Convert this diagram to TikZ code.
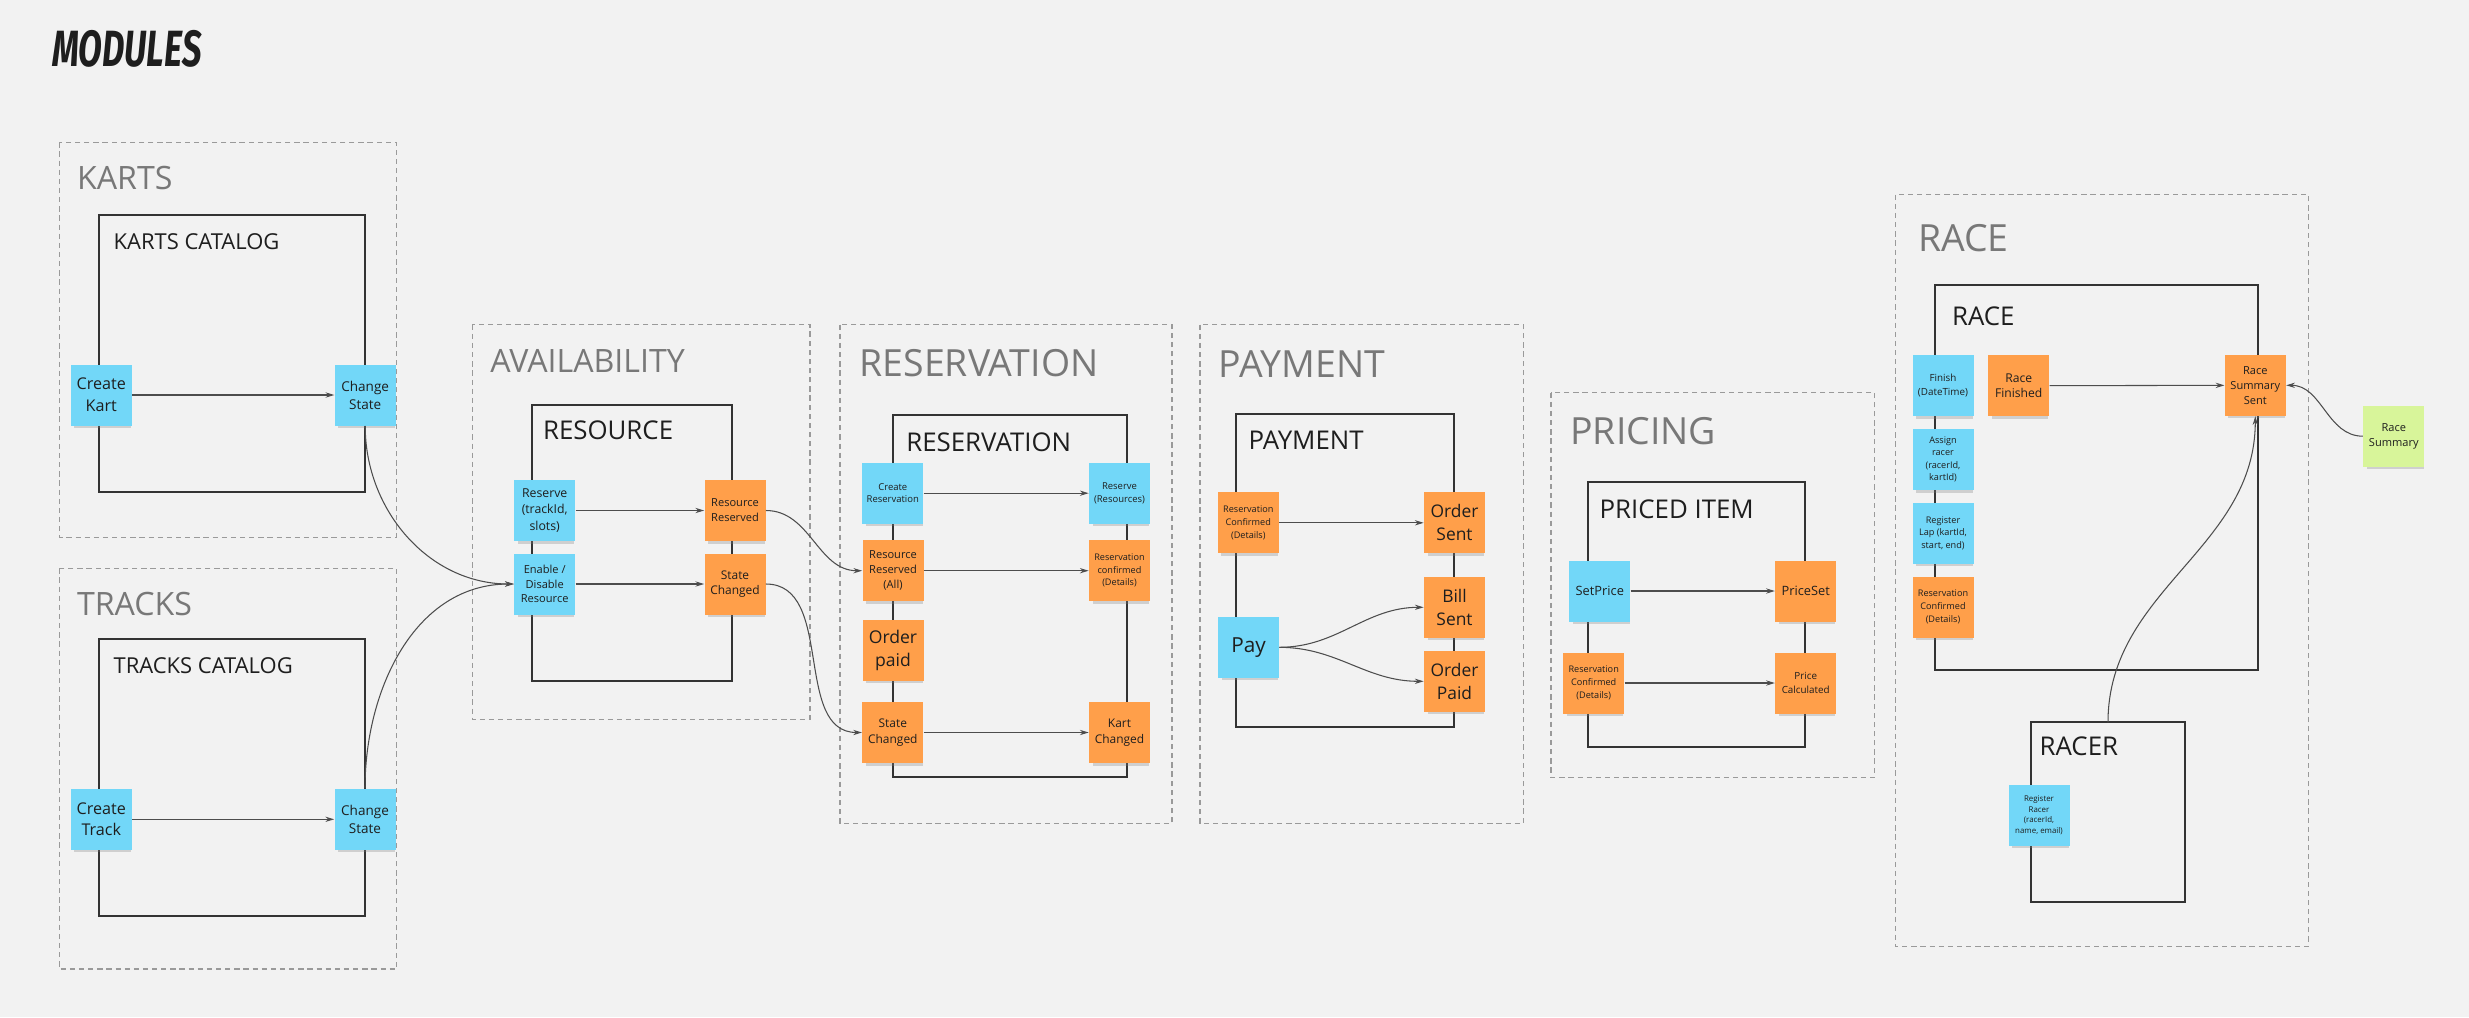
\documentclass[tikz,border=0pt]{standalone}
\usepackage{fontspec}
\setmainfont{Open Sans}
\newfontfamily\titlefont{Fira Sans}
\usetikzlibrary{arrows.meta,shadows}
\definecolor{bgGrey}{HTML}{F2F2F2}
\definecolor{frameGrey}{HTML}{9A9A9A}
\definecolor{labelGrey}{HTML}{787878}
\definecolor{boxLine}{HTML}{333333}
\definecolor{connLine}{HTML}{4D4D4D}
\definecolor{noteBlue}{HTML}{72D7F8}
\definecolor{noteOrange}{HTML}{FF9F4A}
\definecolor{noteGreen}{HTML}{D8F59A}
\definecolor{noteText}{HTML}{1E1E1E}
\newcommand\fsz[2]{\fontsize{#1}{#2}\selectfont}

\tikzset{
  module/.style={draw=frameGrey, line width=0.8pt, dash pattern=on 3pt off 2.2pt},
  aggbox/.style={draw=boxLine, line width=1.1pt},
  modlabel/.style={anchor=base west, text=labelGrey, inner sep=0},
  agglabel/.style={anchor=base west, text=noteText, inner sep=0},
  note/.style={rectangle, minimum width=12.2mm, minimum height=12.2mm,
    inner sep=0.6mm, align=center, text=noteText,
    drop shadow={shadow xshift=0.3mm, shadow yshift=-1mm,
      shadow scale=0.93, opacity=0.3}},
  cmd/.style={note, fill=noteBlue},
  evt/.style={note, fill=noteOrange},
  ext/.style={note, fill=noteGreen},
  conn/.style={draw=connLine, line width=0.6pt,
    -{Stealth[length=5pt, width=3pt]}},
}

\begin{document}
\begin{tikzpicture}[x=0.2mm, y=-0.2mm]

% --- CANVAS (pixel grid of the board) ---
\fill[bgGrey] (0,0) rectangle (2469,1017);
\useasboundingbox (0,0) rectangle (2469,1017);

\node[anchor=base west, inner sep=0, text=noteText] (title) at (52,66)
  {\titlefont\bfseries\itshape\fsz{29}{30}\scalebox{0.68}[1]{MODULES}};

% --- MODULES (dashed frames) ---
\foreach \xa/\ya/\xb/\yb/\lx/\ly/\fs/\txt [count=\i] in {
    59.3/142.3/396.7/537.3/76.7/189.3/18.3/KARTS,
    59.3/568.3/396.7/969/76.7/615.7/18.3/TRACKS,
    472.3/324.7/810/719.3/490/372/18.3/AVAILABILITY,
    840/324.7/1172/823.3/859.3/376.7/21.3/RESERVATION,
    1200/324.7/1523.3/823.3/1218.3/377.3/21.3/PAYMENT,
    1551/392.7/1874.7/777.3/1570/444.3/21.3/PRICING,
    1895.7/194.7/2308.3/946.7/1917.7/251/21.3/RACE} {
  \draw[module] (\xa,\ya) rectangle (\xb,\yb);
  \node[modlabel, font=\fsz{\fs}{\fs}] (mod\i) at (\lx,\ly) {\txt};
}

% --- AGGREGATES (solid boxes) ---
\foreach \xa/\ya/\xb/\yb/\lx/\ly/\fs/\txt [count=\i] in {
    99.3/215.3/365.3/492/113.3/249/12.5/KARTS CATALOG,
    99.3/639.3/365.3/916.3/113.3/673.3/12.5/TRACKS CATALOG,
    531.7/405/732.3/681/542.7/439/14.7/RESOURCE,
    893.3/415/1127.3/777.3/906/451.3/14.7/RESERVATION,
    1236/414/1454.3/727/1248.3/449/14.7/PAYMENT,
    1587.7/482.3/1805.3/747/1599.3/518/14.7/PRICED ITEM,
    1934.7/284.7/2257.7/670/1951.7/325/14.7/RACE,
    2030.7/722.3/2185.3/902/2039.3/755/14.7/RACER} {
  \draw[aggbox] (\xa,\ya) rectangle (\xb,\yb);
  \node[agglabel, font=\fsz{\fs}{\fs}] (agg\i) at (\lx,\ly) {\txt};
}
\coordinate (racertop) at (2108,722.3);

% --- KARTS ---
\node[cmd, font=\fsz{9.2}{12.4}] (ck) at (101.3,395) {Create\\Kart};
\node[cmd, font=\fsz{7.7}{10.2}] (ks) at (365.2,395) {Change\\State};

% --- TRACKS ---
\node[cmd, font=\fsz{9.2}{12.4}] (ct) at (101.3,819.3) {Create\\Track};
\node[cmd, font=\fsz{7.7}{10.2}] (ts) at (365,819.3) {Change\\State};

% --- AVAILABILITY ---
\node[cmd, font=\fsz{7}{9.3}] (res) at (544.7,510.5) {Reserve\\(trackId,\\slots)};
\node[cmd, font=\fsz{6.3}{8.3}] (enable) at (544.7,584) {Enable /\\Disable\\Resource};
\node[evt, font=\fsz{6.3}{8.5}] (rr) at (735,510.5) {Resource\\Reserved};
\node[evt, font=\fsz{6.8}{8.8}] (sc) at (735,584) {State\\Changed};

% --- RESERVATION ---
\node[cmd, font=\fsz{5.4}{7.2}] (cres) at (892.8,493.2) {Create\\Reservation};
\node[cmd, font=\fsz{5.4}{7.2}] (rsv) at (1119.5,493.2) {Reserve\\(Resources)};
\node[evt, font=\fsz{6.3}{8.6}] (rra) at (893,570.7) {Resource\\Reserved\\(All)};
\node[evt, font=\fsz{5.2}{7.2}] (rcd) at (1119.5,570.7) {Reservation\\confirmed\\(Details)};
\node[evt, font=\fsz{10}{13}] (op) at (893,650.2) {Order\\paid};
\node[evt, font=\fsz{6.8}{9}] (rsc) at (892.8,732.5) {State\\Changed};
\node[evt, font=\fsz{6.8}{9}] (kc) at (1119.5,732.5) {Kart\\Changed};

% --- PAYMENT ---
\node[evt, font=\fsz{5.2}{7.2}] (prc) at (1248.3,522.8) {Reservation\\Confirmed\\(Details)};
\node[cmd, font=\fsz{11.8}{13}] (pay) at (1248.5,647.3) {Pay};
\node[evt, font=\fsz{9.9}{13.2}] (os) at (1454.5,522.8) {Order\\Sent};
\node[evt, font=\fsz{9.9}{13.2}] (bs) at (1454.5,607.3) {Bill\\Sent};
\node[evt, font=\fsz{9.9}{13.2}] (opd) at (1454.5,681.3) {Order\\Paid};

% --- PRICING ---
\node[cmd, font=\fsz{7.3}{9}] (sp) at (1599.8,591) {SetPrice};
\node[evt, font=\fsz{7.3}{9}] (ps) at (1805.7,591) {PriceSet};
\node[evt, font=\fsz{5.2}{7.2}] (pcr) at (1593.7,683) {Reservation\\Confirmed\\(Details)};
\node[evt, font=\fsz{5.6}{7.6}] (pcal) at (1805.7,683) {Price\\Calculated};

% --- RACE ---
\node[cmd, font=\fsz{5.6}{7.6}] (fin) at (1943,385.5) {Finish\\(DateTime)};
\node[cmd, font=\fsz{5.2}{7.1}] (asg) at (1943,459.5) {Assign\\racer\\(racerId,\\kartId)};
\node[cmd, font=\fsz{5.2}{7.1}] (rlap) at (1943,533.2) {Register\\Lap (kartId,\\start, end)};
\node[evt, font=\fsz{5.2}{7.2}] (rcf) at (1943,607) {Reservation\\Confirmed\\(Details)};
\node[evt, font=\fsz{6.9}{9}] (rfin) at (2018.7,385.7) {Race\\Finished};
\node[evt, font=\fsz{6.3}{8.6}] (rss) at (2255.3,385.3) {Race\\Summary\\Sent};
\node[cmd, font=\fsz{4.5}{6.1}] (rgr) at (2039,815.3) {Register\\Racer\\(racerId,\\name, email)};
\node[ext, font=\fsz{6.3}{8.6}] (rsum) at (2393.8,436.2) {Race\\Summary};

% --- FLOWS ---
\draw[conn] (ck) -- (ks);
\draw[conn] (ct) -- (ts);
\draw[conn] (res) -- (rr);
\draw[conn] (enable) -- (sc);
\draw[conn] (cres) -- (rsv);
\draw[conn] (rra) -- (rcd);
\draw[conn] (rsc) -- (kc);
\draw[conn] (prc) -- (os);
\draw[conn] (pay.east) to[out=0, in=180] (bs.west);
\draw[conn] (pay.east) to[out=0, in=180] (opd.west);
\draw[conn] (sp) -- (ps);
\draw[conn] (pcr) -- (pcal);
\draw[conn] (rfin) -- (rss);

% --- BETWEEN MODULES ---
\draw[conn] (ks.south) to[out=-90, in=180] (enable.west);
\draw[conn] (ts.north) to[out=90, in=180] (enable.west);
\draw[conn] (rr.east) to[out=0, in=180] (rra.west);
\draw[conn] (sc.east) to[out=0, in=180] (rsc.west);
\draw[conn] (racertop) to[out=90, in=-90] (rss.south);
\draw[conn] (rsum.west) to[out=180, in=0] (rss.east);

\end{tikzpicture}
\end{document}
